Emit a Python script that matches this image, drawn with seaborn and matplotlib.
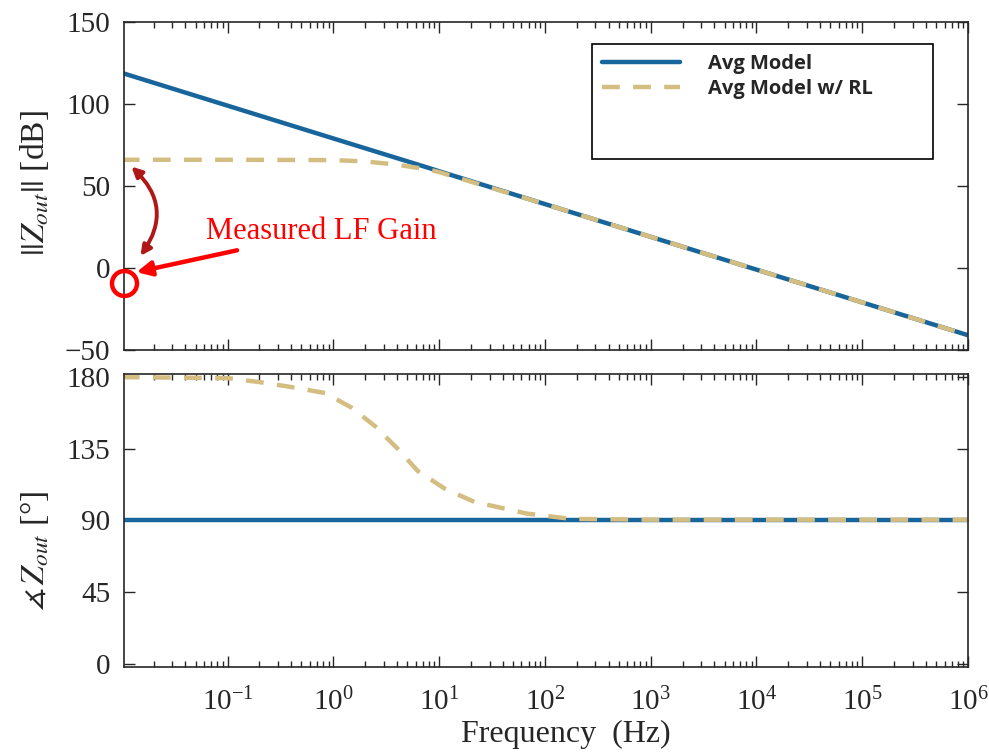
import matplotlib
matplotlib.use("Agg")
import matplotlib.pyplot as plt
import numpy as np
import pandas as pd
import seaborn as sns
from matplotlib.lines import Line2D

# magnitude (dB)
freq_mag = [0.01, 0.1, 1, 2, 4, 8, 10, 100, 1e3, 1e4, 1e5, 1e6]
mag_avg = [119, 99, 79, 73, 67, 61, 59, 39, 19, -1, -21, -41]
mag_rl = [66, 66, 65.8, 65, 63, 60, 58.5, 39, 19, -1, -21, -41]

# phase (deg)
freq_ph = [0.01, 0.1, 0.2, 0.4, 0.84, 1.5, 2.5, 4.1, 6.3, 11.3, 21.5, 68, 178, 1e3, 1e6]
ph_avg = [90] * len(freq_ph)
ph_rl = [180, 179.4, 176.9, 173.8, 170, 160.7, 149, 134.7, 121, 110, 101.7, 94.3, 91, 90.5, 90.5]

blue = "#17659b"
tan = "#d4bd80"

sns.set_style("ticks")
plt.rcParams["font.family"] = ["Liberation Serif", "DejaVu Serif"]
plt.rcParams["mathtext.fontset"] = "stix"
plt.rcParams["axes.linewidth"] = 1.2

mag = pd.DataFrame({"f": freq_mag, "avg": mag_avg, "rl": mag_rl})
ph = pd.DataFrame({"f": freq_ph, "avg": ph_avg, "rl": ph_rl})

fig = plt.figure(figsize=(9.89, 7.52), dpi=100)
ax1 = fig.add_axes([0.1254, 0.5346, 0.8534, 0.4361])
ax2 = fig.add_axes([0.1254, 0.113, 0.8534, 0.3897])

sns.lineplot(data=mag, x="f", y="avg", ax=ax1, color=blue, lw=3.2)
sns.lineplot(data=mag, x="f", y="rl", ax=ax1, color=tan, lw=3.2)
ax1.lines[-1].set_dashes([4, 3])
sns.lineplot(data=ph, x="f", y="avg", ax=ax2, color=blue, lw=3.2)
sns.lineplot(data=ph, x="f", y="rl", ax=ax2, color=tan, lw=3.2)
ax2.lines[-1].set_dashes([4, 3])

for ax in (ax1, ax2):
    ax.set_xscale("log")
    ax.set_xlim(0.0105, 1e6)
    ax.set_xticks([10.0 ** k for k in range(-1, 7)])
    ax.tick_params(which="both", direction="in", top=True, right=True, labelsize=21)
    ax.tick_params(which="major", length=8, width=1, pad=10)
    ax.tick_params(which="minor", length=4, width=1)
ax2.tick_params(axis="x", which="major", pad=15)

ax1.set_ylim(-50, 150)
ax1.set_yticks([-50, 0, 50, 100, 150])
ax1.tick_params(labelbottom=False)
ax1.set_xlabel("")
ax1.set_ylabel(r"$||Z_{out}||$ [dB]", fontsize=24)

ax2.set_ylim(-2, 182)
ax2.set_yticks([0, 45, 90, 135, 180])
ax2.set_xlabel("Frequency  (Hz)", fontsize=23)
ax2.set_ylabel(r"$\measuredangle\, Z_{out}$ [°]", fontsize=24)
ax2.xaxis.set_label_coords(0.524, -0.181)
ax1.yaxis.set_label_coords(-0.086, 0.51)
ax2.yaxis.set_label_coords(-0.086, 0.396)

# legend (blank rows keep the empty space at the bottom/right of the box)
blank = " " * 41
handles = [Line2D([], [], color=blue, lw=3.2),
           Line2D([], [], color=tan, lw=3.2, dashes=[4, 3]),
           Line2D([], [], color="none"),
           Line2D([], [], color="none")]
leg = ax1.legend(handles, ["Avg Model", "Avg Model w/ RL", blank, " "],
                 loc="upper right", bbox_to_anchor=(0.9585, 0.933),
                 prop={"family": "Open Sans", "weight": "bold", "size": 14.5},
                 handlelength=3.9, handletextpad=1.35, labelspacing=0.25,
                 borderpad=0.5, borderaxespad=0, fancybox=False,
                 edgecolor="black", framealpha=1)
leg.get_frame().set_linewidth(1.2)
leg.set_zorder(5)

# measured low-frequency gain annotation
ax1.plot([0.0105], [-9], marker="o", mfc="none", mec="red", ms=18, mew=3.2,
         clip_on=False, zorder=6)
ax1.annotate("Measured LF Gain", xy=(0.0138, -2.5), xytext=(0.063, 22),
             color="red", fontsize=22, va="center", ha="left",
             arrowprops=dict(arrowstyle="-|>", color="red", lw=3.2,
                             mutation_scale=22, shrinkB=0, shrinkA=2))
ax1.annotate("", xy=(0.0118, 63), xytext=(0.0145, 6),
             arrowprops=dict(arrowstyle="<|-|>", color="#b01818", lw=2.8,
                             mutation_scale=15,
                             connectionstyle="arc3,rad=0.45"))

fig.savefig("out.png", dpi=100)
